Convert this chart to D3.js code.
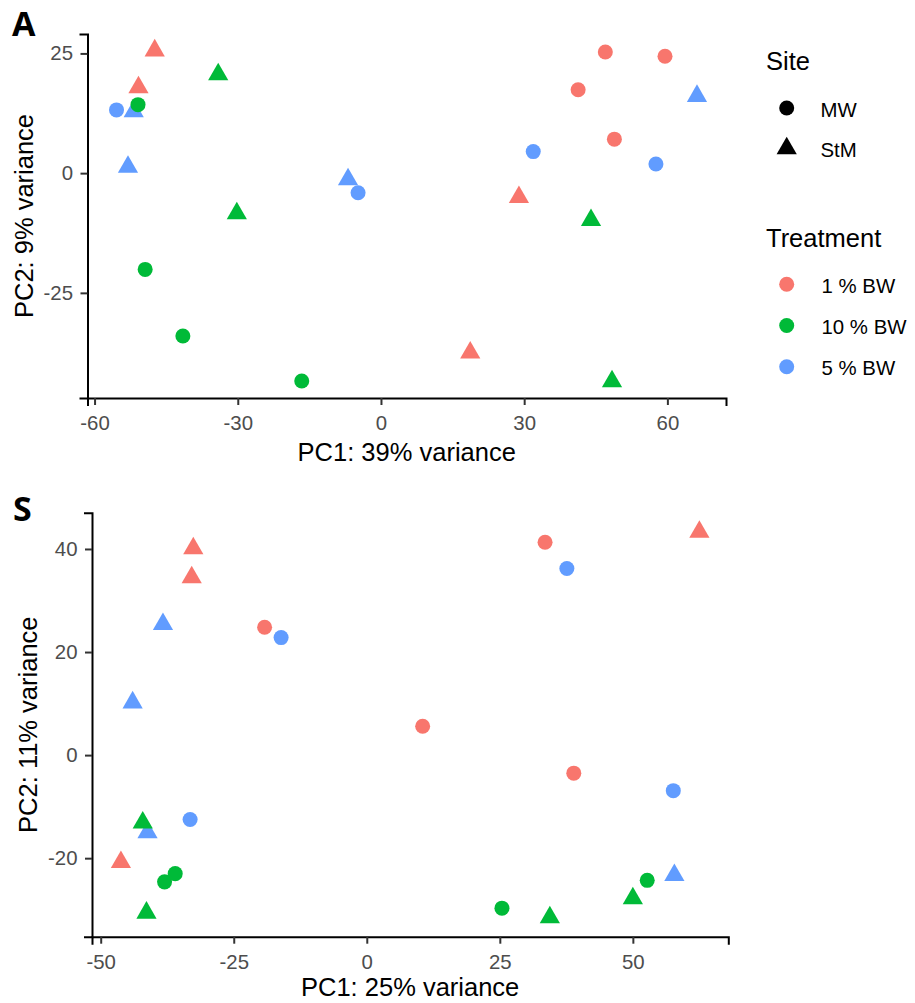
<!DOCTYPE html>
<html>
<head>
<meta charset="utf-8">
<script src="https://cdn.jsdelivr.net/npm/d3@7"></script>
<style>
  html, body { margin: 0; padding: 0; background: #fff; }
  svg { display: block; }
  .tick text { fill: #4D4D4D; }
</style>
</head>
<body>
<svg id="chart" width="915" height="1003"></svg>
<script>
// Treatment and site levels
const treatments = ["1 % BW", "10 % BW", "5 % BW"];
const treatmentColors = ["#F8766D", "#00BA38", "#619CFF"];
const sites = ["MW", "StM"];

// Panel A: PCA scores (PC1 39%, PC2 9%)
const aPC1 = [-55.4, -4.8, 31.9, 57.6, -51.8, -53.0, -6.9, 66.2,
              47.0, 59.5, 41.3, 48.9, -47.4, -50.8, 28.9, 18.7,
              -50.9, -49.4, -41.5, -16.6, -34.1, -30.2, 44.0, 48.4];
const aPC2 = [13.2, -4.1, 4.5, 1.9, 12.9, 1.3, -1.3, 16.1,
              25.3, 24.4, 17.4, 7.1, 25.6, 17.9, -5.0, -37.5,
              14.3, -20.1, -34.0, -43.4, 20.6, -8.4, -9.8, -43.5];
const aSite = ["MW", "MW", "MW", "MW", "StM", "StM", "StM", "StM",
               "MW", "MW", "MW", "MW", "StM", "StM", "StM", "StM",
               "MW", "MW", "MW", "MW", "StM", "StM", "StM", "StM"];
const aTreatment = ["5 % BW", "5 % BW", "5 % BW", "5 % BW", "5 % BW", "5 % BW", "5 % BW", "5 % BW",
                    "1 % BW", "1 % BW", "1 % BW", "1 % BW", "1 % BW", "1 % BW", "1 % BW", "1 % BW",
                    "10 % BW", "10 % BW", "10 % BW", "10 % BW", "10 % BW", "10 % BW", "10 % BW", "10 % BW"];
const aXTicks = [-60, -30, 0, 30, 60];
const aYTicks = [-25, 0, 25];

// Panel S: PCA scores (PC1 25%, PC2 11%)
const sPC1 = [-16.1, 37.6, -33.2, 57.6, -38.3, -44.0, -41.2, 57.8,
              -19.2, 10.5, 33.5, 38.9, -32.6, -32.9, 62.5, -46.2,
              -38.0, -36.0, 52.7, 25.4, -42.1, -41.4, 50.0, 34.4];
const sPC2 = [22.8, 36.2, -12.5, -6.9, 25.4, 10.2, -15.0, -23.3,
              24.8, 5.6, 41.3, -3.5, 40.1, 34.5, 43.3, -20.8,
              -24.6, -23.0, -24.3, -29.7, -13.1, -30.6, -27.8, -31.5];
const sSite = aSite.slice();
const sTreatment = aTreatment.slice();
const sXTicks = [-50, -25, 0, 25, 50];
const sYTicks = [-20, 0, 20, 40];

const FONT = "'Liberation Sans', Arial, sans-serif";
const svg = d3.select("#chart");

const color = d3.scaleOrdinal().domain(treatments).range(treatmentColors);
const shape = d3.scaleOrdinal().domain(sites).range([d3.symbolCircle, d3.symbolTriangle]);
const SYM_AREA = 177;

// ggplot-style continuous expansion (5% each side)
function expanded(vals) {
  const [lo, hi] = d3.extent(vals);
  const pad = (hi - lo) * 0.05;
  return [lo - pad, hi + pad];
}

function panel(opts) {
  const { pc1, pc2, site, treatment, xTicks, yTicks, left, right, top, bottom,
          xTitle, yTitle, letter, letterX, letterY, xTitleY, yTitleX } = opts;
  const x = d3.scaleLinear().domain(expanded(pc1)).range([left, right]);
  const y = d3.scaleLinear().domain(expanded(pc2)).range([bottom, top]);
  const g = svg.append("g");

  const xAxis = g.append("g")
    .attr("transform", `translate(0,${bottom})`)
    .call(d3.axisBottom(x).tickValues(xTicks).tickSizeOuter(0).tickSize(7).tickPadding(10.5)
      .tickFormat(d3.format("d")));
  const yAxis = g.append("g")
    .attr("transform", `translate(${left},0)`)
    .call(d3.axisLeft(y).tickValues(yTicks).tickSizeOuter(0).tickSize(7).tickPadding(7.5)
      .tickFormat(d3.format("d")));

  [xAxis, yAxis].forEach(ax => {
    ax.select(".domain").attr("stroke", "#000").attr("stroke-width", 2).attr("stroke-linecap", "square");
    ax.selectAll(".tick line").attr("stroke", "#333").attr("stroke-width", 2);
    ax.selectAll(".tick text").attr("font-family", FONT).attr("font-size", 20.4)
      .attr("fill", "#4D4D4D").text(d => d < 0 ? "-" + Math.abs(d) : d);
  });

  const idx = d3.range(pc1.length);
  g.append("g").selectAll("path").data(idx).join("path")
    .attr("transform", i => `translate(${x(pc1[i])},${y(pc2[i])})`)
    .attr("d", i => d3.symbol().type(shape(site[i])).size(SYM_AREA)())
    .attr("fill", i => color(treatment[i]));

  g.append("text")
    .attr("x", (left + right) / 2).attr("y", xTitleY)
    .attr("text-anchor", "middle").attr("font-family", FONT).attr("font-size", 25.5)
    .attr("fill", "#000").text(xTitle);
  g.append("text")
    .attr("transform", `translate(${yTitleX},${(top + bottom) / 2}) rotate(-90)`)
    .attr("text-anchor", "middle").attr("font-family", FONT).attr("font-size", 25.5)
    .attr("fill", "#000").text(yTitle);

  svg.append("text")
    .attr("x", letterX).attr("y", letterY)
    .attr("font-family", "'Open Sans', 'Liberation Sans', sans-serif").attr("font-weight", "bold")
    .attr("font-size", 34).attr("fill", "#000").text(letter);
}

panel({ pc1: aPC1, pc2: aPC2, site: aSite, treatment: aTreatment,
        xTicks: aXTicks, yTicks: aYTicks,
        left: 87.5, right: 726, top: 34, bottom: 398,
        xTitle: "PC1: 39% variance", yTitle: "PC2: 9% variance",
        letter: "A", letterX: 12, letterY: 36, xTitleY: 461, yTitleX: 33 });

panel({ pc1: sPC1, pc2: sPC2, site: sSite, treatment: sTreatment,
        xTicks: sXTicks, yTicks: sYTicks,
        left: 92, right: 728.3, top: 512.7, bottom: 936.7,
        xTitle: "PC1: 25% variance", yTitle: "PC2: 11% variance",
        letter: "S", letterX: 13, letterY: 521, xTitleY: 996, yTitleX: 36.5 });

// Legends
const lg = svg.append("g");
const keyX = 786.7, labelX = 820.5;
lg.append("text").attr("x", 766).attr("y", 70).attr("font-family", FONT)
  .attr("font-size", 25.5).attr("fill", "#000").text("Site");
const siteRows = [108, 148.5];
sites.forEach((s, i) => {
  lg.append("path")
    .attr("transform", `translate(${keyX},${siteRows[i]})`)
    .attr("d", d3.symbol().type(shape(s)).size(SYM_AREA)())
    .attr("fill", "#000");
  lg.append("text").attr("x", labelX).attr("y", siteRows[i] + 8.5)
    .attr("font-family", FONT).attr("font-size", 20.4).attr("fill", "#000").text(s);
});

lg.append("text").attr("x", 766).attr("y", 246.5).attr("font-family", FONT)
  .attr("font-size", 25.5).attr("fill", "#000").text("Treatment");
const trtRows = [284.3, 325.5, 366.7];
treatments.forEach((t, i) => {
  lg.append("path")
    .attr("transform", `translate(${keyX},${trtRows[i]})`)
    .attr("d", d3.symbol().type(d3.symbolCircle).size(SYM_AREA)())
    .attr("fill", color(t));
  lg.append("text").attr("x", labelX + 1).attr("y", trtRows[i] + 8.5)
    .attr("font-family", FONT).attr("font-size", 20.4).attr("fill", "#000").text(t);
});
</script>
</body>
</html>
